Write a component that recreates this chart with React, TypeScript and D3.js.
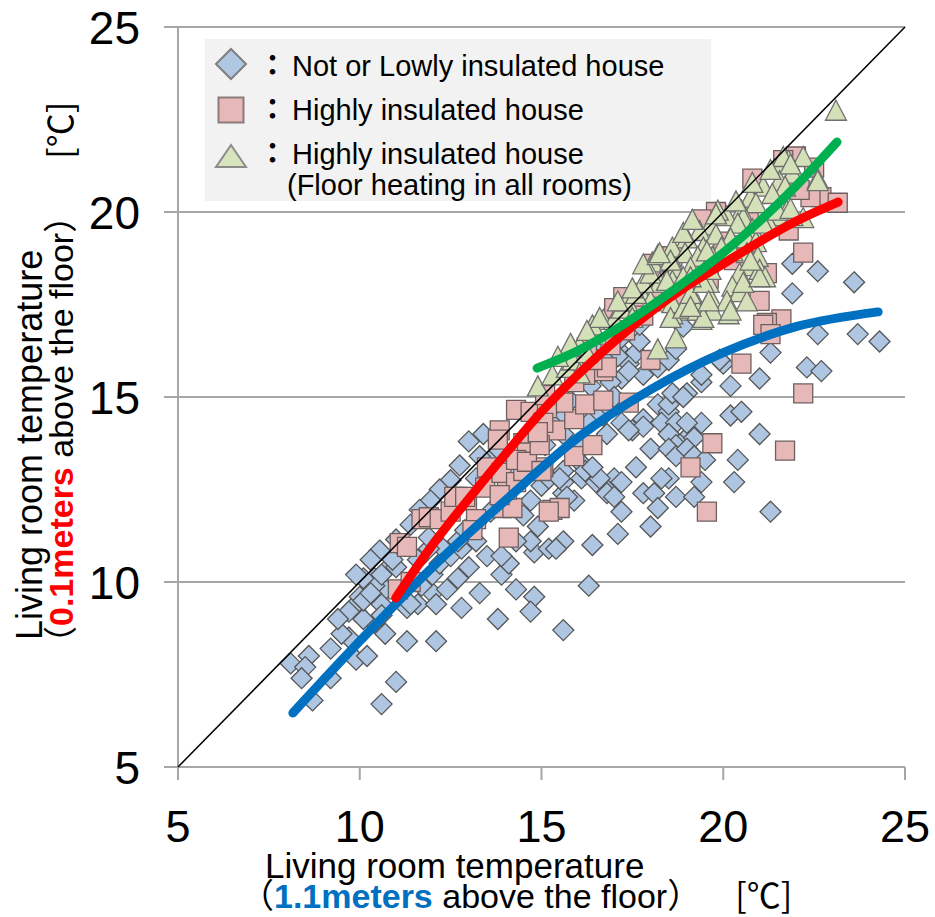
import React from "react";
import * as d3 from "d3";

// Living room temperature: x = 1.1 m above floor, y = 0.1 m above floor [°C]
const lowly: [number, number][] = [
  [8.1, 7.8], [8.6, 8.0], [8.5, 7.7], [8.4, 7.4], [9.2, 8.2], [9.2, 7.4], [8.7, 6.8], [9.7, 8.5],
  [9.9, 9.2], [9.8, 9.3], [10.0, 9.6], [9.9, 7.9], [10.2, 8.0], [10.4, 10.1], [10.7, 9.8], [10.6, 9.4],
  [10.4, 8.9], [10.7, 8.6], [11.0, 7.3], [10.6, 6.7], [11.3, 8.4], [11.3, 9.3], [10.7, 10.3], [11.0, 10.4],
  [11.6, 9.4], [12.0, 9.7], [12.1, 8.4], [10.1, 9.0], [9.7, 9.2], [10.1, 9.5], [10.4, 9.9], [10.6, 10.2],
  [10.6, 9.1], [9.5, 8.6], [11.4, 9.4], [11.7, 9.9], [12.0, 10.2], [12.2, 10.5], [12.5, 10.7], [12.8, 10.9],
  [13.2, 11.1], [13.5, 10.7], [13.0, 10.4], [12.7, 10.1], [12.4, 9.8], [12.1, 9.4], [12.8, 9.3], [13.3, 9.7],
  [13.9, 10.2], [14.1, 10.5], [14.3, 9.8], [14.8, 9.6], [13.8, 9.0], [14.7, 9.2], [15.6, 8.7], [14.8, 10.8],
  [15.2, 10.9], [15.6, 11.1], [14.7, 11.1], [14.3, 11.1], [13.9, 10.7], [16.3, 9.9], [14.9, 11.5], [14.5, 11.8],
  [14.7, 12.2], [15.0, 12.6], [15.2, 12.8], [15.6, 13.0], [16.0, 13.3], [15.6, 12.4], [15.9, 12.2], [16.1, 12.8],
  [13.2, 11.6], [12.7, 11.1], [12.3, 10.9], [13.6, 11.9], [12.9, 11.4], [13.2, 12.8], [13.4, 14.0], [13.6, 13.3],
  [15.0, 14.6], [15.6, 14.0], [16.1, 13.6], [16.3, 14.3], [10.9, 10.6], [11.6, 10.6], [11.9, 10.9], [11.9, 11.2],
  [10.1, 10.1], [10.3, 9.7], [17.1, 16.3], [17.4, 15.9], [17.6, 16.2], [17.8, 15.6], [17.2, 15.5], [16.9, 15.4],
  [17.0, 15.0], [16.7, 14.5], [17.2, 14.3], [17.5, 14.1], [17.8, 14.4], [18.2, 14.8], [18.5, 14.6], [18.3, 14.3],
  [18.7, 14.3], [18.6, 13.9], [18.9, 13.8], [19.1, 14.0], [19.4, 15.4], [19.0, 15.1], [19.4, 14.3], [18.5, 12.8],
  [18.0, 13.6], [17.6, 13.1], [17.0, 12.8], [17.8, 12.4], [18.7, 12.3], [19.4, 12.7], [16.8, 12.5], [16.5, 12.7],
  [16.1, 13.2], [15.6, 12.7], [17.2, 16.6], [17.7, 16.5], [16.9, 16.5], [17.1, 16.1], [17.4, 15.7], [16.5, 16.1],
  [18.2, 15.8], [18.5, 16.0], [18.7, 16.3], [18.9, 16.9], [19.4, 15.6], [16.5, 14.5], [16.3, 14.3], [21.9, 18.6],
  [22.6, 18.4], [23.6, 18.1], [21.9, 17.8], [22.6, 16.7], [23.7, 16.7], [24.3, 16.5], [22.3, 15.8], [22.7, 15.7],
  [21.0, 15.5], [20.2, 15.3], [20.2, 14.5], [21.0, 14.0], [20.0, 15.9], [18.5, 14.8], [19.0, 14.3], [18.6, 15.1],
  [18.9, 15.0], [17.8, 14.2], [17.4, 14.1], [16.8, 14.0], [18.5, 14.0], [19.2, 13.9], [18.7, 13.7], [18.5, 13.6],
  [18.7, 13.4], [19.0, 13.6], [19.2, 13.4], [19.5, 13.3], [20.5, 14.6], [20.4, 13.3], [20.3, 12.7], [19.2, 12.3],
  [18.3, 12.8], [18.1, 12.4], [18.2, 12.0], [17.2, 12.7], [16.8, 12.4], [17.0, 12.3], [17.2, 11.9], [16.6, 12.8],
  [16.2, 13.0], [16.4, 13.1], [18.0, 11.5], [17.1, 11.3], [16.4, 11.0], [21.3, 11.9], [15.7, 12.3], [15.5, 12.8],
  [19.9, 16.0], [21.3, 16.2], [15.4, 10.9], [13.0, 13.8], [13.3, 13.4], [13.85, 13.55], [14.0, 13.0], [14.7, 13.8],
  [15.1, 13.7], [15.4, 14.25], [15.65, 14.5], [15.8, 14.9], [16.35, 15.3], [16.5, 15.7], [16.75, 16.0], [16.6, 16.5],
  [12.75, 13.15], [12.5, 12.75], [12.2, 12.5], [11.95, 12.2], [11.65, 11.95], [11.4, 11.55], [11.0, 11.15], [10.55, 10.85],
  [10.3, 10.6], [9.9, 10.2], [9.4, 9.0], [17.7, 16.95],
];

const highly: [number, number][] = [
  [11.05, 9.8], [11.4, 10.0], [11.1, 11.05], [11.3, 10.95], [11.7, 11.7], [11.9, 11.75], [12.2, 11.7], [12.5, 11.9],
  [12.7, 12.3], [12.95, 12.2], [13.2, 11.7], [13.1, 11.4], [14.1, 11.2], [13.9, 12.0], [14.2, 12.0], [14.05, 12.5],
  [13.45, 12.55], [13.5, 13.1], [13.9, 12.95], [14.3, 12.7], [14.5, 13.0], [13.85, 14.1], [13.8, 13.85], [14.3, 14.65],
  [14.7, 14.6], [14.5, 13.75], [14.9, 13.8], [14.6, 13.5], [15.05, 13.1], [15.3, 11.95], [15.5, 12.0], [15.4, 14.1],
  [15.9, 14.4], [15.9, 13.4], [15.6, 14.85], [15.15, 14.7], [12.6, 12.3], [12.9, 12.3], [15.2, 11.9], [13.85, 12.35],
  [14.3, 13.3], [14.6, 13.25], [15.0, 13.0], [15.05, 14.3], [14.95, 13.7], [16.2, 14.8], [16.7, 14.9], [17.4, 14.85],
  [16.4, 13.7], [14.9, 14.05], [16.7, 15.7], [16.2, 15.6], [18.0, 16.0], [19.1, 13.1], [17.7, 17.4], [18.05, 17.95],
  [18.1, 18.6], [18.5, 18.8], [20.5, 15.9], [22.2, 15.1], [19.7, 13.75], [21.7, 13.55], [19.55, 11.9], [16.8, 15.8],
  [22.0, 21.5], [22.5, 21.2], [22.7, 20.4], [23.15, 20.25], [22.4, 20.4], [22.1, 20.6], [22.2, 18.9], [21.6, 17.1],
  [21.2, 17.0], [21.2, 18.35], [20.7, 19.95], [19.8, 20.0], [19.4, 19.8], [18.6, 18.8], [18.1, 18.4], [21.8, 19.5],
  [21.0, 17.6], [20.8, 20.9], [21.65, 21.4], [21.1, 16.95], [21.3, 16.7], [20.0, 19.2], [20.3, 18.7], [19.6, 18.2],
  [20.6, 19.1], [19.0, 18.0], [18.7, 17.6], [17.8, 17.2], [17.3, 16.8], [16.9, 16.4], [16.4, 16.0], [15.9, 15.4],
  [17.0, 17.4], [17.25, 17.7], [16.25, 16.35], [15.1, 15.05],
];

const floorHeat: [number, number][] = [
  [23.1, 22.75], [22.6, 20.9], [21.8, 21.4], [21.55, 21.3], [21.9, 21.05], [21.1, 20.7], [21.55, 20.85], [21.7, 20.7],
  [21.35, 20.5], [20.75, 20.4], [20.9, 20.25], [20.5, 20.05], [20.1, 19.9], [20.55, 19.85], [19.85, 20.05], [20.4, 19.7],
  [21.75, 20.05], [22.2, 19.85], [21.9, 19.9], [21.5, 19.9], [21.2, 19.8], [20.8, 19.55], [19.65, 19.65], [19.35, 19.5],
  [19.8, 19.4], [20.2, 19.3], [20.65, 19.3], [20.9, 19.2], [19.0, 19.3], [19.45, 19.05], [19.95, 19.05], [18.6, 19.05],
  [18.95, 18.9], [19.3, 18.8], [19.7, 18.8], [20.65, 18.9], [20.95, 18.8], [18.05, 18.65], [18.7, 18.5], [19.1, 18.5],
  [20.75, 18.55], [21.0, 18.45], [21.15, 18.25], [17.9, 18.15], [18.25, 18.1], [18.6, 18.15], [19.2, 18.15], [19.6, 18.1],
  [20.45, 18.35], [20.25, 18.0], [20.45, 17.85], [19.65, 17.7], [20.1, 17.6], [19.3, 17.5], [19.0, 17.35], [18.6, 17.25],
  [19.7, 17.35], [20.15, 17.25], [19.4, 17.1], [17.7, 17.9], [18.0, 17.6], [14.9, 15.3], [15.3, 15.6], [15.7, 15.8],
  [15.85, 16.0], [16.05, 16.4], [16.05, 15.65], [16.25, 16.2], [16.5, 16.7], [16.7, 17.1], [16.4, 16.95], [17.0, 17.1],
  [17.2, 17.4], [17.35, 17.6], [17.6, 17.8], [17.5, 17.15], [17.8, 18.1], [18.0, 18.35], [17.8, 18.6], [18.2, 18.85],
  [18.55, 18.7], [18.45, 18.15], [18.6, 17.55], [18.55, 17.15], [18.7, 16.6], [18.2, 16.3], [18.9, 17.4], [19.3, 17.35],
  [19.45, 17.15], [19.1, 17.8], [19.45, 18.1], [18.9, 18.25], [19.1, 17.45], [19.6, 17.6], [20.2, 17.35], [20.65, 17.6],
  [20.55, 18.1], [21.0, 18.25], [20.75, 18.7], [20.25, 18.95], [19.55, 18.95], [21.1, 19.7], [21.5, 20.05], [21.85, 20.1],
  [22.6, 20.85], [22.2, 21.5], [21.65, 21.5], [17.5, 17.95], [17.1, 17.6], [16.6, 17.15], [16.25, 16.8], [15.8, 16.45],
  [15.45, 16.1], [19.1, 18.25], [19.65, 18.45], [18.25, 18.9], [18.9, 19.45], [19.15, 19.8], [19.8, 19.95], [20.35, 20.3],
  [20.8, 20.8], [21.3, 21.15], [21.85, 21.3],
];

// regression curves
const blueFit: [number, number][] = [
  [8.16, 6.46], [10, 8.4], [12, 10.4], [14, 12.2], [16, 13.9], [18, 15.2], [20, 16.2], [22, 16.9], [24.26, 17.3],
];
const redFit: [number, number][] = [
  [10.99, 9.57], [12, 11.0], [13, 12.25], [14, 13.45], [15, 14.6], [16, 15.6], [17, 16.5], [18, 17.3],
  [19, 18.0], [20, 18.6], [21, 19.2], [22, 19.75], [23.16, 20.27],
];
const greenFit: [number, number][] = [
  [14.88, 15.78], [16, 16.25], [17, 16.8], [18, 17.45], [19, 18.15], [20, 18.9], [21, 19.75], [22, 20.7], [23.13, 21.89],
];

const ticks = [5, 10, 15, 20, 25];
const legendLabels = ["Not or Lowly insulated house", "Highly insulated house", "Highly insulated house"];

const FONT = "'Liberation Sans', Arial, 'Noto Sans CJK JP', sans-serif";
const CJK = "'Noto Sans CJK JP', sans-serif";

const diamond = (r: number) => `M0,${-r}L${r},0L0,${r}L${-r},0Z`;
const square = (s: number) => `M${-s / 2},${-s / 2}h${s}v${s}h${-s}Z`;
const triangle = (w: number, h: number) => `M0,${-h / 2}L${w / 2},${h / 2}L${-w / 2},${h / 2}Z`;

const App = () => {
  const width = 935;
  const height = 917;

  const x = d3.scaleLinear().domain([5, 25]).range([178, 905]);
  const y = d3.scaleLinear().domain([5, 25]).range([767, 27]);

  const line = d3
    .line<[number, number]>()
    .x((d) => x(d[0]))
    .y((d) => y(d[1]))
    .curve(d3.curveMonotoneX);

  return (
    <svg
      width={width}
      height={height}
      style={{ position: "absolute", left: 0, top: 0, background: "#fff" }}
      fontFamily={FONT}
    >
      {/* gridlines */}
      {ticks.slice(1).map((t) => (
        <line key={t} x1={x(5) - 14} x2={x(25)} y1={y(t)} y2={y(t)} stroke="#a6a6a6" strokeWidth={2} />
      ))}
      {/* axes */}
      <line x1={x(5)} x2={x(5)} y1={y(25)} y2={y(5) + 13} stroke="#a6a6a6" strokeWidth={2} />
      <line x1={x(5) - 14} x2={x(25)} y1={y(5)} y2={y(5)} stroke="#a6a6a6" strokeWidth={2} />
      {ticks.map((t) => (
        <line key={"xt" + t} x1={x(t)} x2={x(t)} y1={y(5)} y2={y(5) + 13} stroke="#a6a6a6" strokeWidth={2} />
      ))}
      {ticks.map((t) => (
        <text key={"yl" + t} x={140} y={y(t)} dy="0.36em" textAnchor="end" fontSize={46}>
          {t}
        </text>
      ))}
      {ticks.map((t) => (
        <text key={"xl" + t} x={x(t)} y={842} textAnchor="middle" fontSize={45}>
          {t}
        </text>
      ))}

      {/* legend */}
      <rect x={205} y={39} width={506} height={162} fill="#f2f2f2" />
      <path d={diamond(15)} transform="translate(231,64)" fill="#b0c7e3" stroke="#7f7f7f" strokeWidth={2} />
      <path d={square(25)} transform="translate(231,110)" fill="#e6b9b8" stroke="#8c7a7a" strokeWidth={2} />
      <path d={triangle(30, 22)} transform="translate(231,156)" fill="#d7e4bd" stroke="#8c8c8c" strokeWidth={2} />
      {legendLabels.map((l, i) => (
        <g key={i}>
          <text x={258} y={76 + i * 44} fontSize={29} fontFamily={CJK} fontWeight="bold">
            ：
          </text>
          <text x={292} y={76 + i * 44} fontSize={29}>
            {l}
          </text>
        </g>
      ))}
      <text x={287} y={195} fontSize={29}>
        (Floor heating in all rooms)
      </text>

      {/* scatter */}
      <g fill="#afc6e2" stroke="#555" strokeWidth={1.3}>
        {lowly.map((d, i) => (
          <path key={i} d={diamond(10.5)} transform={`translate(${x(d[0])},${y(d[1])})`} />
        ))}
      </g>
      <g fill="#e6b9b8" stroke="#6e5f5f" strokeWidth={1.3}>
        {highly.map((d, i) => (
          <path key={i} d={square(19)} transform={`translate(${x(d[0])},${y(d[1])})`} />
        ))}
      </g>
      <g fill="#d3e0b8" stroke="#6f6f6f" strokeWidth={1.3}>
        {floorHeat.map((d, i) => (
          <path key={i} d={triangle(21, 20)} transform={`translate(${x(d[0])},${y(d[1])})`} />
        ))}
      </g>

      {/* 1:1 line */}
      <line x1={x(5)} y1={y(5)} x2={x(25)} y2={y(25)} stroke="#000" strokeWidth={1.5} />

      {/* fits */}
      <path d={line(blueFit) || ""} fill="none" stroke="#0070c0" strokeWidth={9} strokeLinecap="round" />
      <path d={line(redFit) || ""} fill="none" stroke="#ff0000" strokeWidth={9} strokeLinecap="round" />
      <path d={line(greenFit) || ""} fill="none" stroke="#00b050" strokeWidth={9} strokeLinecap="round" />

      {/* x title */}
      <text x={265} y={878} fontSize={35}>
        Living room temperature
      </text>
      <text x={240} y={908} fontSize={34}>
        <tspan fontFamily={CJK}>（</tspan>
        <tspan fill="#0070c0" fontWeight="bold">1.1meters</tspan>
        <tspan> above the floor</tspan>
        <tspan fontFamily={CJK}>）</tspan>
        <tspan dx={34} fontFamily={CJK}>[℃]</tspan>
      </text>

      {/* y title */}
      <text transform="translate(42,640) rotate(-90)" fontSize={36}>
        Living room temperature
      </text>
      <text transform="translate(73,660) rotate(-90)" fontSize={34}>
        <tspan fontFamily={CJK}>（</tspan>
        <tspan fill="#ff0000" fontWeight="bold">0.1meters</tspan>
        <tspan> above the floor</tspan>
        <tspan fontFamily={CJK}>）</tspan>
        <tspan dx={40} fontFamily={CJK}>[℃]</tspan>
      </text>
    </svg>
  );
};

export default App;
